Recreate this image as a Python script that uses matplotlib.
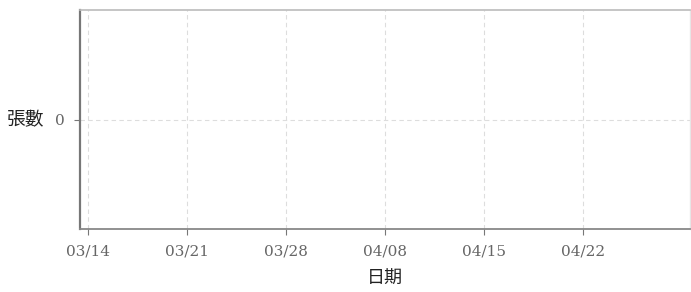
import matplotlib
matplotlib.use("Agg")
import matplotlib.pyplot as plt

plt.rcParams['font.family'] = ['DejaVu Serif', 'Noto Sans CJK TC', 'DejaVu Sans']

# Data
tick_labels = ["03/14", "03/21", "03/28", "04/08", "04/15", "04/22"]
tick_days = [0, 7, 14, 21, 28, 35]
counts = []          # no records
count_dates = []
y_ticks = [0]

fig = plt.figure(figsize=(6.91, 2.92), dpi=100)
ax = fig.add_axes([80/691, 1 - 229/292, 610/691, 219/292])

ax.plot(count_dates, counts, color="#1f77b4")

ax.set_xlim(-0.57, 42.6)
ax.set_ylim(-0.055, 0.055)
ax.set_xticks(tick_days)
ax.set_xticklabels(tick_labels, fontsize=11, color="#666666")
ax.set_yticks(y_ticks)
ax.set_yticklabels([str(v) for v in y_ticks], fontsize=11, color="#666666")

ax.grid(True, linestyle=(0, (4, 3)), color="#dddddd", linewidth=0.8)
ax.set_axisbelow(True)

ax.spines['left'].set_color("#777777")
ax.spines['left'].set_linewidth(1.6)
ax.spines['bottom'].set_color("#888888")
ax.spines['bottom'].set_linewidth(1.3)
ax.spines['top'].set_color("#bbbbbb")
ax.spines['top'].set_linewidth(1.2)
ax.spines['right'].set_color("#e6e6e6")
ax.spines['right'].set_linewidth(1.0)
ax.tick_params(axis='both', length=4, color="#777777")
ax.tick_params(axis='x', pad=7)
ax.tick_params(axis='y', pad=7)

ax.set_xlabel("日期", fontsize=13, family=['Noto Sans CJK TC'], labelpad=8, color="#222222")
ax.set_ylabel("張數", fontsize=13.5, family=['Noto Sans CJK TC'], rotation=0,
              ha='right', va='center', labelpad=8, color="#222222")

fig.savefig("out.png", dpi=100)
